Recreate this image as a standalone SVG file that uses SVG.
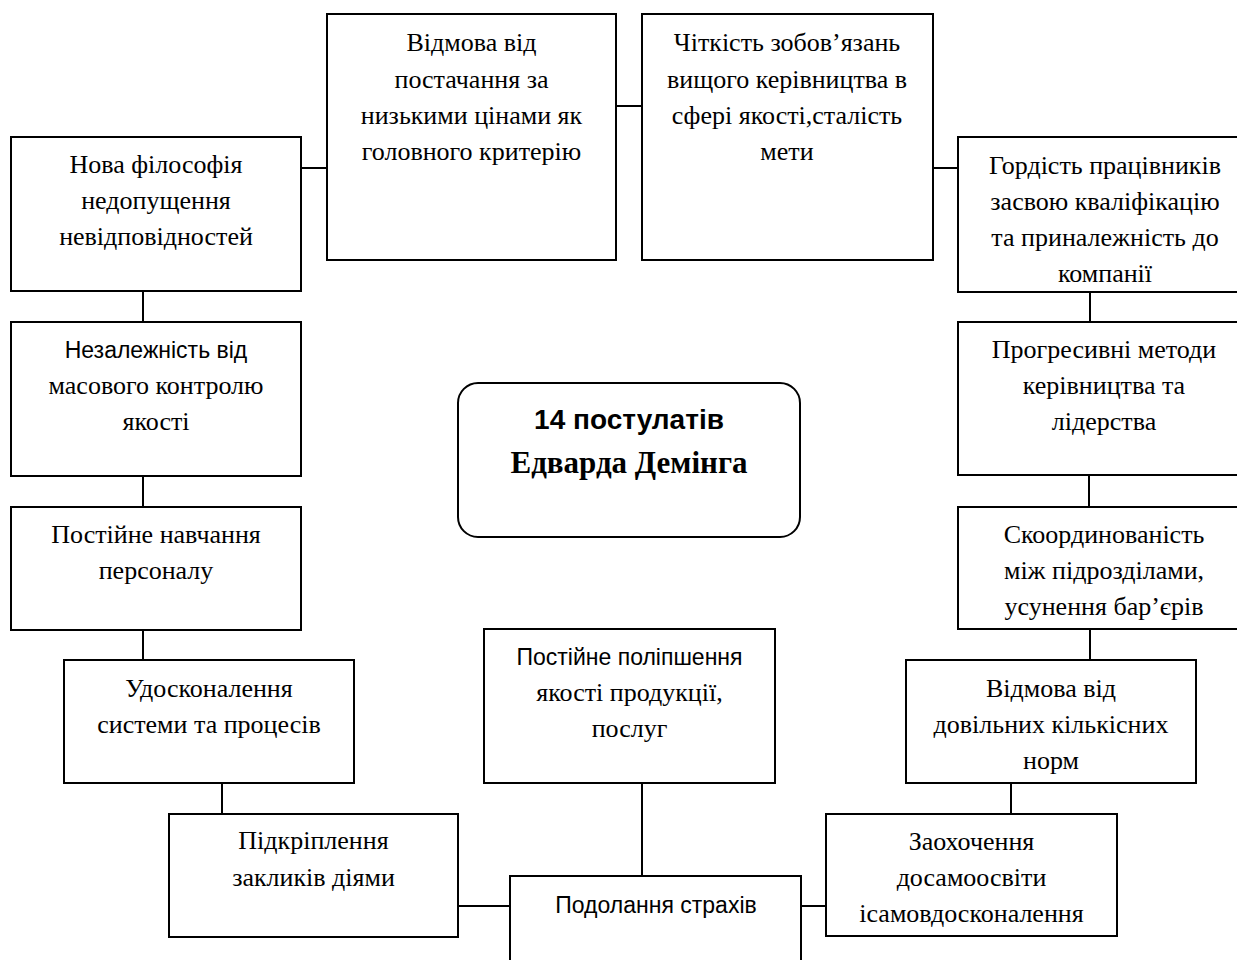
<svg xmlns="http://www.w3.org/2000/svg" width="1237" height="960" viewBox="0 0 1237 960">
<style>
.box{fill:#fff;stroke:#000;stroke-width:2}
.t{font-family:"Liberation Serif","Times New Roman",serif;font-size:26px;fill:#000;text-anchor:middle}
.s{font-family:"Liberation Sans",Arial,sans-serif;font-size:23px;fill:#000;text-anchor:middle}
.c line{stroke:#000;stroke-width:2}
</style>
<rect width="1237" height="960" fill="#fff"/>
<g class="c" id="connectors">
<line x1="301" y1="168" x2="327" y2="168"/>
<line x1="616" y1="106" x2="642" y2="106"/>
<line x1="933" y1="168" x2="958" y2="168"/>
<line x1="143" y1="291" x2="143" y2="322"/>
<line x1="143" y1="476" x2="143" y2="507"/>
<line x1="143" y1="630" x2="143" y2="660"/>
<line x1="222" y1="783" x2="222" y2="814"/>
<line x1="458" y1="906" x2="510" y2="906"/>
<line x1="642" y1="783" x2="642" y2="876"/>
<line x1="801" y1="906" x2="826" y2="906"/>
<line x1="1011" y1="783" x2="1011" y2="814"/>
<line x1="1090" y1="629" x2="1090" y2="660"/>
<line x1="1089" y1="475" x2="1089" y2="507"/>
<line x1="1090" y1="292" x2="1090" y2="322"/>
</g>
<g id="n-nova">
<rect class="box" x="11" y="137" width="290" height="154"/>
<text class="t" x="156" y="173">Нова філософія</text>
<text class="t" x="156" y="209">недопущення</text>
<text class="t" x="156" y="245">невідповідностей</text>
</g>
<g id="n-vidmova-postach">
<rect class="box" x="327" y="14" width="289" height="246"/>
<text class="t" x="471.5" y="51">Відмова від</text>
<text class="t" x="471.5" y="88">постачання за</text>
<text class="t" x="471.5" y="124">низькими цінами як</text>
<text class="t" x="471.5" y="160">головного критерію</text>
</g>
<g id="n-chitkist">
<rect class="box" x="642" y="14" width="291" height="246"/>
<text class="t" x="787" y="51">Чіткість зобов’язань</text>
<text class="t" x="787" y="88">вищого керівництва в</text>
<text class="t" x="787" y="124">сфері якості,сталість</text>
<text class="t" x="787" y="160">мети</text>
</g>
<g id="n-hordist">
<rect class="box" x="958" y="137" width="294" height="155"/>
<text class="t" x="1105" y="174">Гордість працівників</text>
<text class="t" x="1105" y="210">засвою кваліфікацію</text>
<text class="t" x="1105" y="246">та приналежність до</text>
<text class="t" x="1105" y="282">компанії</text>
</g>
<g id="n-nezalezhnist">
<rect class="box" x="11" y="322" width="290" height="154"/>
<text class="s" x="156" y="358">Незалежність від</text>
<text class="t" x="156" y="394">масового контролю</text>
<text class="t" x="156" y="430">якості</text>
</g>
<g id="n-navchannia">
<rect class="box" x="11" y="507" width="290" height="123"/>
<text class="t" x="156" y="543">Постійне навчання</text>
<text class="t" x="156" y="579">персоналу</text>
</g>
<g id="n-center">
<rect class="box" x="458" y="383" width="342" height="154" rx="20" ry="20"/>
<text x="629" y="429" font-family="'Liberation Sans',Arial,sans-serif" font-weight="bold" font-size="28" text-anchor="middle">14 постулатів</text>
<text x="629" y="473" font-family="'Liberation Serif','Times New Roman',serif" font-weight="bold" font-size="31" text-anchor="middle">Едварда Демінга</text>
</g>
<g id="n-progresyvni">
<rect class="box" x="958" y="322" width="294" height="153"/>
<text class="t" x="1104" y="358">Прогресивні методи</text>
<text class="t" x="1104" y="394">керівництва та</text>
<text class="t" x="1104" y="430">лідерства</text>
</g>
<g id="n-skoordynovanist">
<rect class="box" x="958" y="507" width="294" height="122"/>
<text class="t" x="1104" y="543">Скоординованість</text>
<text class="t" x="1104" y="579">між підрозділами,</text>
<text class="t" x="1104" y="615">усунення бар’єрів</text>
</g>
<g id="n-udoskonalennia">
<rect class="box" x="64" y="660" width="290" height="123"/>
<text class="t" x="209" y="697">Удосконалення</text>
<text class="t" x="209" y="733">системи та процесів</text>
</g>
<g id="n-polipshennia">
<rect class="box" x="484" y="629" width="291" height="154"/>
<text class="s" x="629.5" y="665">Постійне поліпшення</text>
<text class="t" x="629.5" y="701">якості продукції,</text>
<text class="t" x="629.5" y="737">послуг</text>
</g>
<g id="n-vidmova-norm">
<rect class="box" x="906" y="660" width="290" height="123"/>
<text class="t" x="1051" y="697">Відмова від</text>
<text class="t" x="1051" y="733">довільних кількісних</text>
<text class="t" x="1051" y="769">норм</text>
</g>
<g id="n-pidkriplennia">
<rect class="box" x="169" y="814" width="289" height="123"/>
<text class="t" x="313.5" y="849">Підкріплення</text>
<text class="t" x="313.5" y="886">закликів діями</text>
</g>
<g id="n-podolannia">
<rect class="box" x="510" y="876" width="291" height="120"/>
<text class="s" x="656" y="913">Подолання страхів</text>
</g>
<g id="n-zaokhochennia">
<rect class="box" x="826" y="814" width="291" height="122"/>
<text class="t" x="971.5" y="850">Заохочення</text>
<text class="t" x="971.5" y="886">досамоосвіти</text>
<text class="t" x="971.5" y="922">ісамовдосконалення</text>
</g>
</svg>
